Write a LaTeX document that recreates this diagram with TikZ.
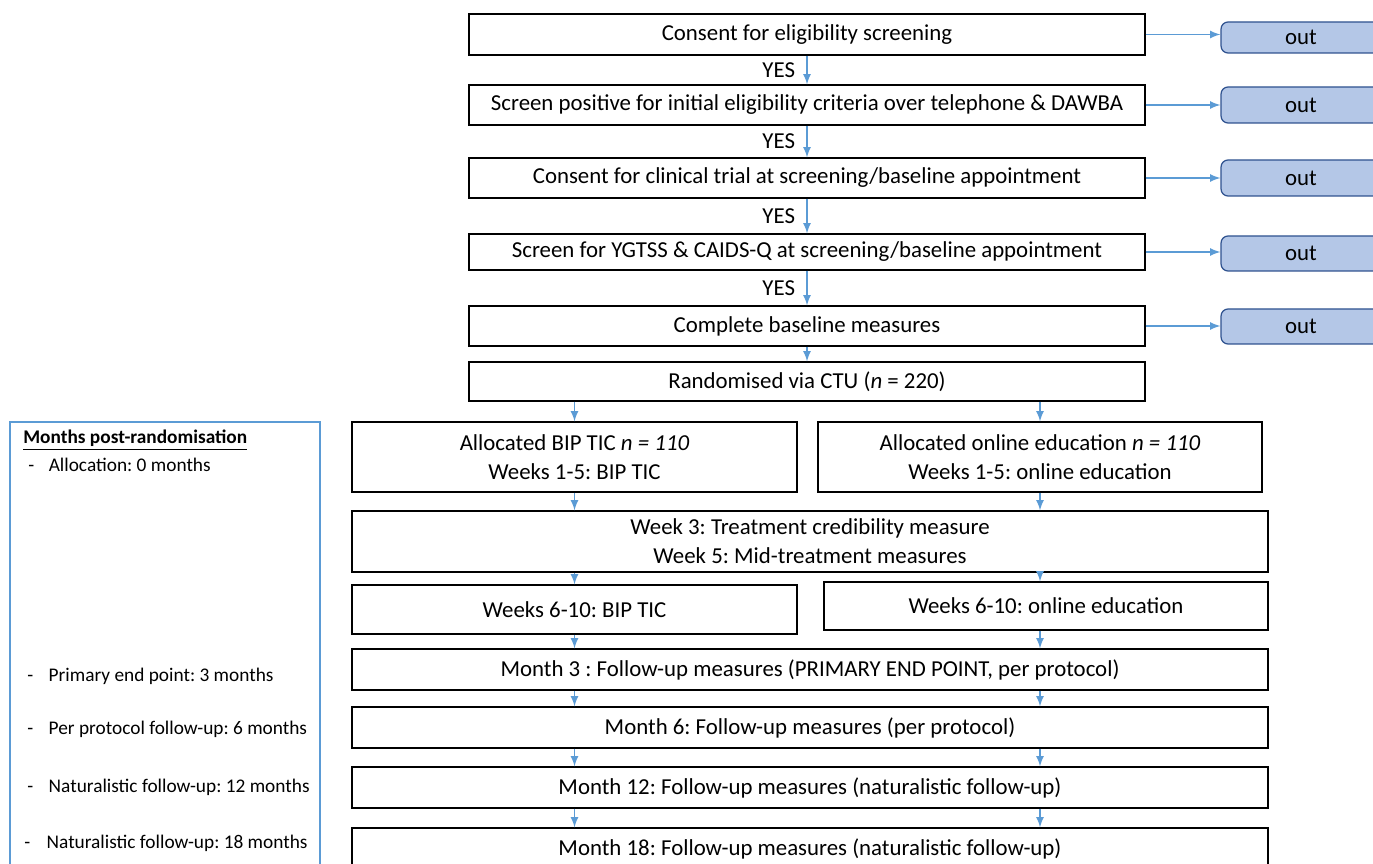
\documentclass[tikz,border=0pt]{standalone}
\usepackage{fontspec}
\setmainfont{Carlito}
\usepackage{tikz}
\usetikzlibrary{shapes.geometric, arrows}
\definecolor{arrowblue}{HTML}{5B9BD5}
\definecolor{outfill}{HTML}{B4C7E7}
\definecolor{outdraw}{HTML}{2F528F}
\tikzstyle{process} = [rectangle, inner sep=0pt, text centered, draw=black, fill=white, line width=0.7pt, font=\fontsize{13}{16.5}\selectfont, align=center]
\tikzstyle{outbox} = [rectangle, rounded corners=4pt, minimum width=3.2cm, inner sep=0pt, text centered, draw=outdraw, fill=outfill, line width=0.7pt, font=\fontsize{13}{15}\selectfont]
\tikzstyle{arrow} = [line width=1pt, arrowblue, ->, >=latex]
\tikzstyle{yes} = [left=3pt, text=black, font=\fontsize{13}{15}\selectfont]
\tikzstyle{panelitem} = [anchor=west, inner sep=0pt, font=\fontsize{11}{13}\selectfont]

\begin{document}
\frenchspacing
\begin{tikzpicture}[x=0.02cm, y=-0.02cm]
\useasboundingbox (0,0) rectangle (1373,864);
\clip (0,0) rectangle (1373,864);

% Nodes
\node (c1) [process, minimum width=13.52cm, minimum height=0.82cm] at (807,34.5) {Consent for eligibility screening};
\node (c2) [process, minimum width=13.52cm, minimum height=0.80cm] at (807,105) {Screen positive for initial eligibility criteria over telephone \& DAWBA};
\node (c3) [process, minimum width=13.52cm, minimum height=0.80cm] at (807,178) {Consent for clinical trial at screening/baseline appointment};
\node (c4) [process, minimum width=13.52cm, minimum height=0.72cm] at (807,252) {Screen for YGTSS \& CAIDS-Q at screening/baseline appointment};
\node (c5) [process, minimum width=13.52cm, minimum height=0.80cm] at (807,326) {Complete baseline measures};
\node (rand) [process, minimum width=13.52cm, minimum height=0.78cm] at (807,381.5) {Randomised via CTU (\textit{n} = 220)};

\node (o1) [outbox, minimum height=0.62cm] at (1301,37.5) {out};
\node (o2) [outbox, minimum height=0.72cm] at (1301,105) {out};
\node (o3) [outbox, minimum height=0.72cm] at (1301,178) {out};
\node (o4) [outbox, minimum height=0.70cm] at (1301,253.5) {out};
\node (o5) [outbox, minimum height=0.70cm] at (1301,326.5) {out};

\node (bip1) [process, minimum width=8.9cm, minimum height=1.4cm] at (574.5,457) {Allocated BIP TIC \textit{n = 110}\\Weeks 1-5: BIP TIC};
\node (edu1) [process, minimum width=8.88cm, minimum height=1.4cm] at (1040,457) {Allocated online education \textit{n = 110}\\Weeks 1-5: online education};
\node (week) [process, minimum width=18.32cm, minimum height=1.22cm] at (810,541.5) {Week 3: Treatment credibility measure\\Week 5: Mid-treatment measures};
\node (bip2) [process, minimum width=8.9cm, minimum height=0.98cm] at (574.5,609.5) {Weeks 6-10: BIP TIC};
\node (edu2) [process, minimum width=8.88cm, minimum height=0.96cm] at (1046,606) {Weeks 6-10: online education};
\node (m3) [process, minimum width=18.32cm, minimum height=0.82cm] at (810,669.5) {Month 3 : Follow-up measures (PRIMARY END POINT, per protocol)};
\node (m6) [process, minimum width=18.32cm, minimum height=0.82cm] at (810,727.5) {Month 6: Follow-up measures (per protocol)};
\node (m12) [process, minimum width=18.32cm, minimum height=0.82cm] at (810,787.5) {Month 12: Follow-up measures (naturalistic follow-up)};
\node (m18) [process, minimum width=18.32cm, minimum height=0.84cm] at (810,849) {Month 18: Follow-up measures (naturalistic follow-up)};

% Left panel
\node (panel) [draw=arrowblue, line width=0.9pt, minimum width=6.2cm, minimum height=9.4cm] at (165,657) {};
\node (title) [panelitem] at (23,440) {\underline{\textbf{Months post-randomisation}}};
\node (lp0) [panelitem] at (28,465) {-\hspace{0.75em}Allocation: 0 months};
\node (lp3) [panelitem] at (27,676) {-\hspace{0.8em}Primary end point: 3 months};
\node (lp6) [panelitem] at (27,729) {-\hspace{0.8em}Per protocol follow-up: 6 months};
\node (lp12) [panelitem] at (27,787) {-\hspace{0.8em}Naturalistic follow-up: 12 months};
\node (lp18) [panelitem] at (24,843) {-\hspace{0.85em}Naturalistic follow-up: 18 months};

% Arrows
\draw [arrow] (c1) -- node[yes] {YES} (c2);
\draw [arrow] (c2) -- node[yes] {YES} (c3);
\draw [arrow] (c3) -- node[yes] {YES} (c4);
\draw [arrow] (c4) -- node[yes] {YES} (c5);
\draw [arrow] (c5) -- (rand);

\draw [arrow] (c1.east) -- (c1.east -| o1.west);
\draw [arrow] (c2.east) -- (c2.east -| o2.west);
\draw [arrow] (c3.east) -- (c3.east -| o3.west);
\draw [arrow] (c4.east) -- (c4.east -| o4.west);
\draw [arrow] (c5.east) -- (c5.east -| o5.west);

\draw [arrow] (rand.south -| bip1) -- (bip1);
\draw [arrow] (rand.south -| edu1) -- (edu1);
\draw [arrow] (bip1) -- (bip1.south |- week.north);
\draw [arrow] (edu1) -- (edu1.south |- week.north);
\draw [arrow] (week.south -| bip2) -- (bip2);
\draw [arrow] (week.south -| edu1) -- (edu1 |- edu2.north);
\draw [arrow] (bip2) -- (bip2.south |- m3.north);
\draw [arrow] (edu1 |- edu2.south) -- (edu1 |- m3.north);
\draw [arrow] (m3.south -| bip2) -- (m6.north -| bip2);
\draw [arrow] (m3.south -| edu1) -- (m6.north -| edu1);
\draw [arrow] (m6.south -| bip2) -- (m12.north -| bip2);
\draw [arrow] (m6.south -| edu1) -- (m12.north -| edu1);
\draw [arrow] (m12.south -| bip2) -- (m18.north -| bip2);
\draw [arrow] (m12.south -| edu1) -- (m18.north -| edu1);

\end{tikzpicture}
\end{document}
